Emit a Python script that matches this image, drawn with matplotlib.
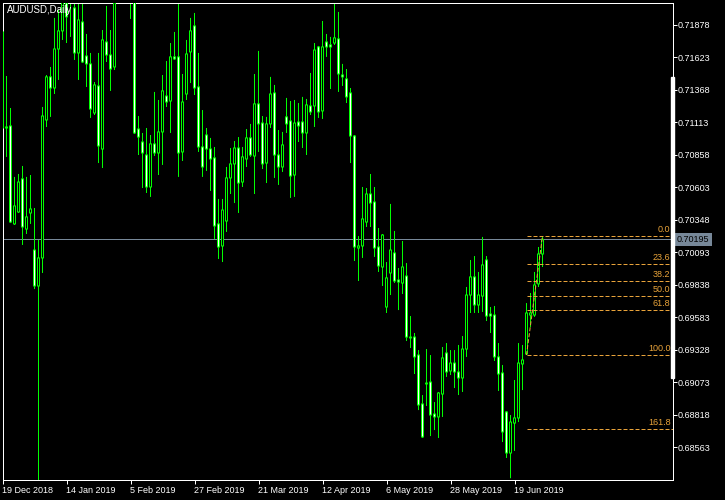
import matplotlib
matplotlib.use('Agg')
import matplotlib.pyplot as plt
import matplotlib.transforms as mtransforms
from matplotlib.patches import Rectangle
import numpy as np

plt.rcParams['font.family'] = ['Liberation Sans', 'DejaVu Sans']

# ---------------- data (AUDUSD daily) ----------------
opens = [
    0.71823, 0.71077, 0.71085, 0.70316, 0.70410, 0.70669, 0.70276, 0.70402, 0.70111, 0.69829,
    0.70049, 0.71132, 0.71470, 0.71383, 0.71689, 0.71831, 0.72050, 0.72098, 0.72011, 0.71658,
    0.71901, 0.71634, 0.71572, 0.71187, 0.71399, 0.70904, 0.71744, 0.71642, 0.71548, 0.72080,
    0.72550, 0.72650, 0.72220, 0.72140, 0.71061, 0.70959, 0.70857, 0.70606, 0.70944, 0.70873,
    0.71038, 0.71320, 0.71281, 0.71627, 0.71627, 0.70881, 0.71336, 0.71666, 0.71870, 0.71391,
    0.70920, 0.71014, 0.70904, 0.70834, 0.70316, 0.70143, 0.70339, 0.70677, 0.70787, 0.70912,
    0.70645, 0.70826, 0.70991, 0.70849, 0.71258, 0.71108, 0.70794, 0.71101, 0.71344, 0.70857,
    0.70763, 0.71156, 0.71124, 0.70700, 0.71116, 0.71116, 0.71030, 0.71242, 0.71242, 0.71705,
    0.71203, 0.71744, 0.71721, 0.71736, 0.71768, 0.71485, 0.71454, 0.71344, 0.71006, 0.70127,
    0.70143, 0.70331, 0.70551, 0.70488, 0.70135, 0.69978, 0.69664, 0.69931, 0.70088, 0.69876,
    0.69852, 0.69907, 0.69428, 0.69428, 0.69287, 0.68903, 0.69067, 0.69075, 0.68824, 0.68801,
    0.68981, 0.69303, 0.69162, 0.69224, 0.69154, 0.69107, 0.69334, 0.69758, 0.69900, 0.69680,
    0.69750, 0.70033, 0.69609, 0.69601, 0.69272, 0.69146, 0.68840, 0.68518, 0.68753, 0.68793,
    0.69217, 0.69295, 0.69601, 0.69601, 0.69845, 0.70080]

highs = [
    0.71830, 0.71477, 0.71226, 0.70685, 0.70708, 0.70771, 0.70685, 0.70700, 0.70441, 0.70190,
    0.71234, 0.71485, 0.71548, 0.71933, 0.71996, 0.72153, 0.72113, 0.72192, 0.72098, 0.72090,
    0.72074, 0.71807, 0.71658, 0.71430, 0.71658, 0.71838, 0.72027, 0.71838, 0.72113, 0.72620,
    0.72960, 0.72750, 0.72360, 0.72200, 0.71163, 0.71030, 0.71069, 0.71014, 0.71352, 0.71289,
    0.71485, 0.71595, 0.71736, 0.71823, 0.72050, 0.71493, 0.71760, 0.71933, 0.71972, 0.71658,
    0.71210, 0.71069, 0.70991, 0.70920, 0.70512, 0.70512, 0.70763, 0.70912, 0.70967, 0.70998,
    0.70920, 0.71061, 0.71101, 0.71493, 0.71674, 0.71163, 0.71156, 0.71470, 0.71407, 0.71053,
    0.71038, 0.71305, 0.71281, 0.71289, 0.71265, 0.71313, 0.71297, 0.71501, 0.71736, 0.71713,
    0.71909, 0.71807, 0.71784, 0.72050, 0.71980, 0.71572, 0.71532, 0.71383, 0.71014, 0.70221,
    0.70606, 0.70598, 0.70708, 0.70606, 0.70284, 0.70237, 0.70017, 0.70473, 0.70261, 0.69970,
    0.70182, 0.70009, 0.69593, 0.69460, 0.69326, 0.68973, 0.69334, 0.69287, 0.68918, 0.68997,
    0.69350, 0.69381, 0.69326, 0.69326, 0.69366, 0.69436, 0.69821, 0.70033, 0.70064, 0.69939,
    0.70214, 0.70064, 0.69664, 0.69672, 0.69381, 0.69209, 0.68848, 0.68816, 0.69091, 0.69381,
    0.69366, 0.69695, 0.69774, 0.69939, 0.70135, 0.70221]

lows = [
    0.71060, 0.70842, 0.70323, 0.70308, 0.70402, 0.70151, 0.70237, 0.70316, 0.69805, 0.67160,
    0.69931, 0.71077, 0.71156, 0.71336, 0.71446, 0.71760, 0.71736, 0.71784, 0.71603, 0.71446,
    0.71579, 0.71391, 0.71148, 0.71171, 0.70794, 0.70755, 0.71587, 0.71360, 0.71524, 0.72065,
    0.72350, 0.72150, 0.71925, 0.71022, 0.70857, 0.70598, 0.70559, 0.70528, 0.70849, 0.70700,
    0.70779, 0.71234, 0.71030, 0.71603, 0.70685, 0.70810, 0.71289, 0.71422, 0.71328, 0.70881,
    0.70685, 0.70732, 0.70575, 0.70198, 0.70041, 0.70017, 0.70253, 0.70551, 0.70480, 0.70402,
    0.70606, 0.70763, 0.70842, 0.70551, 0.70881, 0.70747, 0.70637, 0.71069, 0.70677, 0.70622,
    0.70724, 0.71030, 0.70520, 0.70528, 0.70959, 0.70912, 0.70857, 0.71171, 0.71077, 0.71148,
    0.71140, 0.71627, 0.71375, 0.71721, 0.71352, 0.71399, 0.71265, 0.70794, 0.70025, 0.69868,
    0.70049, 0.70292, 0.70292, 0.70057, 0.69939, 0.69829, 0.69617, 0.69758, 0.69852, 0.69640,
    0.69766, 0.69397, 0.69342, 0.69138, 0.68855, 0.68636, 0.68887, 0.68651, 0.68698, 0.68636,
    0.68801, 0.69115, 0.69130, 0.69028, 0.68973, 0.68997, 0.69272, 0.69617, 0.69617, 0.69617,
    0.69625, 0.69554, 0.69460, 0.69240, 0.69005, 0.68604, 0.68479, 0.68320, 0.68534, 0.68761,
    0.69012, 0.69287, 0.69507, 0.69586, 0.69821, 0.69978]

closes = [
    0.71069, 0.71069, 0.70331, 0.70457, 0.70645, 0.70292, 0.70371, 0.70433, 0.69829, 0.70049,
    0.71163, 0.71470, 0.71383, 0.71689, 0.71831, 0.72090, 0.71941, 0.72137, 0.71658, 0.71917,
    0.71587, 0.71572, 0.71218, 0.71407, 0.70928, 0.71760, 0.71642, 0.71532, 0.72050, 0.72550,
    0.72650, 0.72220, 0.72140, 0.71030, 0.70998, 0.70873, 0.70606, 0.70944, 0.70873, 0.71038,
    0.71360, 0.71273, 0.71627, 0.71611, 0.70873, 0.71273, 0.71650, 0.71831, 0.71383, 0.70920,
    0.70763, 0.70904, 0.70826, 0.70300, 0.70135, 0.70425, 0.70677, 0.70787, 0.70912, 0.70637,
    0.70842, 0.70991, 0.70857, 0.71258, 0.71101, 0.70787, 0.71101, 0.71336, 0.70857, 0.70763,
    0.70936, 0.71101, 0.70692, 0.71108, 0.71085, 0.71030, 0.71250, 0.71195, 0.71681, 0.71195,
    0.71705, 0.71705, 0.71705, 0.71776, 0.71493, 0.71470, 0.71313, 0.71006, 0.70135, 0.70143,
    0.70355, 0.70551, 0.70480, 0.70127, 0.69986, 0.70229, 0.69892, 0.70111, 0.69868, 0.69860,
    0.69978, 0.69428, 0.69421, 0.69272, 0.68895, 0.68644, 0.69060, 0.68816, 0.68801, 0.68989,
    0.69264, 0.69154, 0.69224, 0.69154, 0.69107, 0.69334, 0.69758, 0.69900, 0.69680, 0.69758,
    0.69994, 0.69593, 0.69593, 0.69272, 0.69138, 0.68683, 0.68518, 0.68761, 0.68793, 0.69224,
    0.69248, 0.69617, 0.69617, 0.69837, 0.70080, 0.70195]

date_tick_index = [0, 16, 32, 48, 64, 80, 96, 112, 128]
date_labels = ['19 Dec 2018', '14 Jan 2019', '5 Feb 2019', '27 Feb 2019', '21 Mar 2019',
               '12 Apr 2019', '6 May 2019', '28 May 2019', '19 Jun 2019']
price_ticks = [0.71878, 0.71623, 0.71368, 0.71113, 0.70858, 0.70603, 0.70348,
               0.70093, 0.69838, 0.69583, 0.69328, 0.69073, 0.68818, 0.68563]
fib_levels = [0.0, 23.6, 38.2, 50.0, 61.8, 100.0, 161.8]
fib_start, fib_end = 131, 135          # bar indexes of the fibo anchors
y_range = (0.68310, 0.72054)
title = 'AUDUSD,Daily'

# ---------------- layout ----------------
W, H = 725, 500
LIME = '#00ff00'
FIB = '#e8a33a'
BID = '#778899'
PX = 0.72  # one pixel in points at dpi 100

fig = plt.figure(figsize=(W / 100, H / 100), dpi=100, facecolor='black')
L_px, R_px, T_px, B_px = 2.5, 672.5, 2.5, 479.5
ax = fig.add_axes([L_px / W, 1 - B_px / H, (R_px - L_px) / W, (B_px - T_px) / H])
ax.set_facecolor('black')

n = len(opens)
x = np.arange(n)
o = np.array(opens); c = np.array(closes)
hi = np.array(highs); lo = np.array(lows)
xmax = (R_px - L_px) / 4.0
ax.set_xlim(0, xmax)
ax.set_ylim(*y_range)
ypx = (y_range[1] - y_range[0]) / (B_px - T_px)   # price per pixel

# bid line
ax.axhline(closes[-1], color=BID, lw=PX, zorder=1.5)

# candles: wick, lime outer body (3 px), 1 px inner fill (white = bear, black = bull)
ax.vlines(x, lo, hi, colors=LIME, lw=PX, zorder=2, snap=False)
bottoms = np.minimum(o, c)
tops = np.maximum(o, c)
outer_b = bottoms - 0.5 * ypx
outer_h = (tops - bottoms) + ypx
outer = ax.bar(x, outer_h, bottom=outer_b, width=0.75, color=LIME, linewidth=0, zorder=3)
inner_h = np.maximum(outer_h - 2 * ypx, 0)
faces = ['white' if cc < oo else 'black' for oo, cc in zip(o, c)]
inner = ax.bar(x, inner_h, bottom=outer_b + ypx, width=0.25, color=faces, linewidth=0,
               zorder=3.5)
for p in list(outer) + list(inner):
    p.set_snap(False)

# fibonacci retracement
f_hi = highs[fib_end]
f_lo = lows[fib_start]
fib_prices = [f_hi - lv / 100.0 * (f_hi - f_lo) for lv in fib_levels]
ax.hlines(fib_prices, fib_start, xmax, colors=FIB, linestyles=(0, (4, 2)), lw=PX, zorder=4)
ax.plot([fib_start, fib_end], [f_lo, f_hi], color=FIB, ls=(0, (4, 2)), lw=PX, zorder=4)
off = mtransforms.offset_copy(ax.transData, fig=fig, x=-2, y=2, units='dots')
for lv, pr in zip(fib_levels, fib_prices):
    ax.text(xmax, pr, f'{lv:.1f}', transform=off, ha='right', va='bottom',
            color=FIB, fontsize=6.5, zorder=5)

# spines / ticks
for s in ax.spines.values():
    s.set_color('white')
    s.set_linewidth(PX)
ax.yaxis.tick_right()
ax.set_yticks(price_ticks)
ax.set_yticklabels([f'{v:.5f}' for v in price_ticks])
ax.set_xticks(date_tick_index)
ax.set_xticklabels(date_labels, ha='left')
ax.tick_params(axis='y', direction='out', length=4 * PX, width=PX, colors='white',
               pad=1.0, labelsize=6.5)
ax.tick_params(axis='x', direction='out', length=4 * PX, width=PX, colors='white',
               pad=1.5, labelsize=6.5)

# current price label box
btr = mtransforms.blended_transform_factory(ax.transAxes, ax.transData)
ax.text(1 + (677 - R_px) / (R_px - L_px), closes[-1], f'{closes[-1]:.5f}', transform=btr,
        ha='left', va='center', color='black', fontsize=6.5, clip_on=False, zorder=6,
        bbox=dict(boxstyle='square,pad=0.25', fc=BID, ec='none'))

# right-hand scroll marker bar
fig.add_artist(Rectangle((670.7 / W, 1 - 378 / H), 3 / W, (378 - 77) / H,
                         transform=fig.transFigure, color='white', zorder=10))

fig.text(7 / W, 1 - 10 / H, title, color='white', fontsize=7, ha='left', va='center')

fig.savefig('out.png', dpi=100, facecolor='black')
